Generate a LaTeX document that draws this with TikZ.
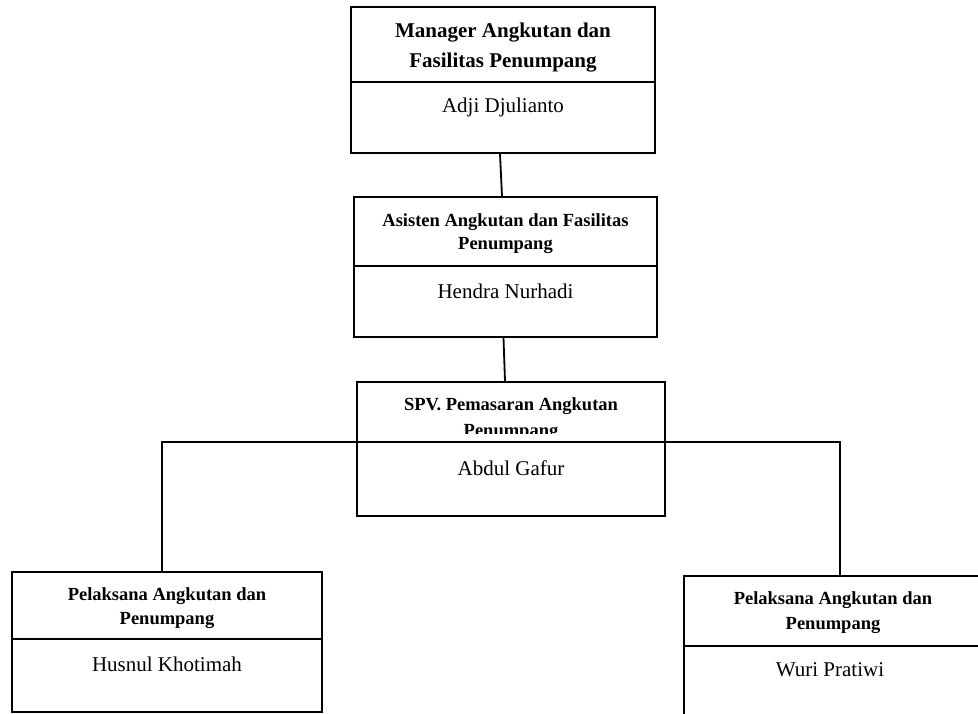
\documentclass[tikz,border=0pt]{standalone}
\usepackage{fontspec}
\setmainfont{Liberation Serif}
\tikzset{
	unit/.style={draw, line width=1.8pt, rectangle, inner sep=0pt},
	title/.style={align=center, inner sep=0pt, font=\fontsize{18.5}{25}\selectfont\bfseries},
	person/.style={inner sep=0pt, font=\fontsize{21}{25}\selectfont},
	link/.style={line width=1.8pt}
}

\begin{document}
\begin{tikzpicture}[x=1pt,y=-1pt]
	\useasboundingbox (0,0) rectangle (978,713);
	
	\node[unit, minimum width=304pt, minimum height=146pt] (mgr) at (503,80) {};
	\node[unit, minimum width=303pt, minimum height=140pt] (ast) at (505.5,267) {};
	\node[unit, minimum width=308pt, minimum height=134pt] (spv) at (511,449) {};
	\node[unit, minimum width=310pt, minimum height=140pt] (pl1) at (167,642) {};
	\node[unit, minimum width=298pt, minimum height=140pt] (pl2) at (833,646) {};
	
	\draw[link] (mgr.west |- 0,82) -- (mgr.east |- 0,82);
	\draw[link] (ast.west |- 0,266) -- (ast.east |- 0,266);
	\draw[link] (spv.west |- 0,442) -- (spv.east |- 0,442);
	\draw[link] (pl1.west |- 0,639) -- (pl1.east |- 0,639);
	\draw[link] (pl2.west |- 0,646) -- (pl2.east |- 0,646);
	
	\node[title, font=\fontsize{21}{30}\selectfont\bfseries] (mgrT) at (503,48) {Manager Angkutan dan\\Fasilitas Penumpang};
	\node[person] (mgrN) at (503,107) {Adji Djulianto};
	
	\node[title, font=\fontsize{18.5}{23}\selectfont\bfseries] (astT) at (505.5,234) {Asisten Angkutan dan Fasilitas\\Penumpang};
	\node[person] (astN) at (505.5,291) {Hendra Nurhadi};
	
	\begin{scope}
		\clip (spv.north west) rectangle (spv.east |- 0,433);
		\node[title, font=\fontsize{18.5}{26}\selectfont\bfseries] (spvT) at (511,419) {SPV. Pemasaran Angkutan\\Penumpang};
	\end{scope}
	\node[person] (spvN) at (511,468) {Abdul Gafur};
	
	\node[title, font=\fontsize{18.5}{24}\selectfont\bfseries] (pl1T) at (167,608) {Pelaksana Angkutan dan\\Penumpang};
	\node[person] (pl1N) at (167,664) {Husnul Khotimah};
	
	\node[title] (pl2T) at (833,613) {Pelaksana Angkutan dan\\Penumpang};
	\node[person] (pl2N) at (830,670) {Wuri Pratiwi};
	
	% garis
	\coordinate (jl) at (162,442);
	\coordinate (jr) at (840,442);
	\draw[link] ([xshift=-3pt]mgr.south) -- ([xshift=-3.5pt]ast.north);
	\draw[link] ([xshift=-2pt]ast.south) -- ([xshift=-6pt]spv.north);
	\draw[link] (spv.west |- jl) -- (jl) -- (jl |- pl1.north);
	\draw[link] (spv.east |- jr) -- (jr) -- (jr |- pl2.north);
\end{tikzpicture}
\end{document}
